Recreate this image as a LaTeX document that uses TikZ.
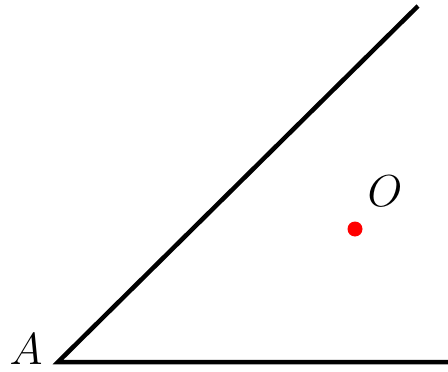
\documentclass[tikz,border=0pt]{standalone}
\usepackage{graphicx}
\begin{document}
\begin{tikzpicture}[x=1pt,y=-1pt,
  ray/.style={line width=4.5pt,line cap=butt},
  lbl/.style={inner sep=0pt,font=\Huge}]
\useasboundingbox (0,0) rectangle (448,372);
\coordinate (A) at (58,362);
\coordinate (B) at (448,362);
\coordinate (C) at (418,6);
\draw[ray] (B) -- (A) -- (C);
\fill[red] (355,229) circle (7.5) node (O) {};
\node[lbl] (Olab) at (385,191) {\scalebox{1.8}{$O$}};
\node[lbl] (Alab) at (26,349) {\scalebox{1.8}{$A$}};
\end{tikzpicture}
\end{document}
